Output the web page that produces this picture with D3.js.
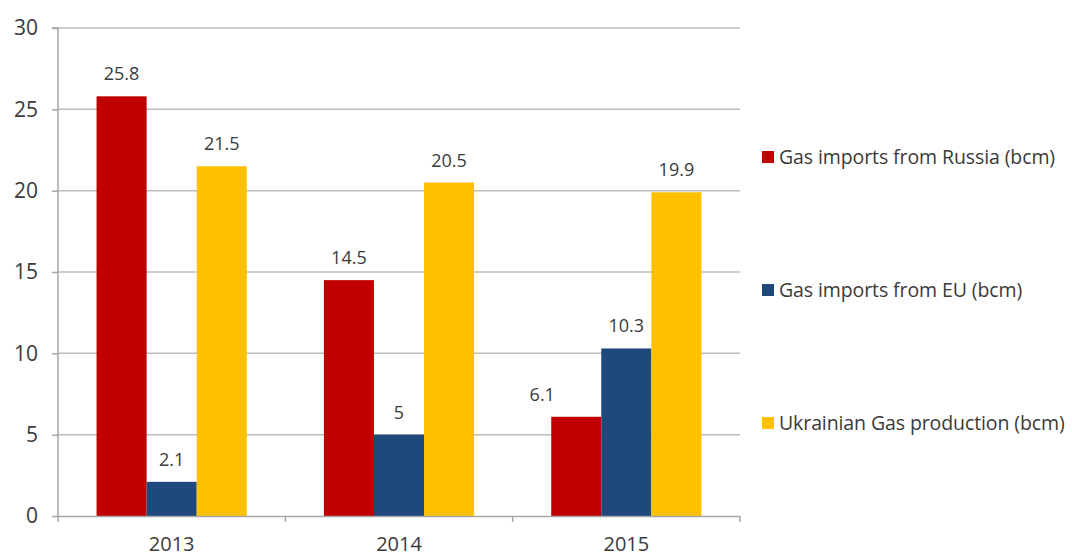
<!DOCTYPE html>
<html><head><meta charset="utf-8">
<script src="https://cdn.jsdelivr.net/npm/d3@7"></script>
<style>body{margin:0;background:#fff}svg{display:block}</style>
</head><body><svg id="c" width="1072" height="556"></svg>
<script>
const years = ["2013", "2014", "2015"];
const seriesNames = ["Gas imports from Russia (bcm)", "Gas imports from EU (bcm)", "Ukrainian Gas production (bcm)"];
const russia = [25.8, 14.5, 6.1];
const eu = [2.1, 5, 10.3];
const production = [21.5, 20.5, 19.9];
const yTicks = [0, 5, 10, 15, 20, 25, 30];
const colors = ["#C00000", "#1F497D", "#FFC000"];

const seriesValues = [russia, eu, production];
const svg = d3.select("#c");
const font = "'Open Sans', sans-serif";
const textColor = "#3a3a3a";
const mLeft = 58, mRight = 740, mTop = 28, mBottom = 516;

const x = d3.scaleBand().domain(years).range([mLeft, mRight]).paddingInner(0).paddingOuter(0);
const x1 = d3.scaleBand().domain(d3.range(3)).range([0, x.bandwidth()]).paddingOuter(0.77).paddingInner(0);
const y = d3.scaleLinear().domain([0, 30]).range([mBottom, mTop]);

// gridlines
svg.append("g").selectAll("line").data(yTicks.filter(t => t > 0)).join("line")
  .attr("x1", mLeft).attr("x2", mRight).attr("y1", d => y(d)).attr("y2", d => y(d))
  .attr("stroke", "#bcbcbc").attr("stroke-width", 1.5);

// y axis
const ya = svg.append("g").attr("transform", `translate(${mLeft},0)`)
  .call(d3.axisLeft(y).tickValues(yTicks).tickSize(6).tickPadding(14));
ya.select(".domain").attr("stroke", "#a6a6a6").attr("stroke-width", 1.5).attr("d", `M-6,${mTop}H0V${mBottom}`);
ya.selectAll(".tick line").attr("stroke", "#a6a6a6").attr("stroke-width", 1.5);
ya.selectAll(".tick text").attr("font-family", font).attr("font-size", 21).attr("fill", textColor);

// bars
const groups = svg.append("g").selectAll("g").data(years).join("g")
  .attr("transform", d => `translate(${x(d)},0)`);
groups.selectAll("rect").data((d, i) => seriesValues.map((s, k) => ({k, v: s[i]}))).join("rect")
  .attr("x", d => x1(d.k)).attr("width", x1.bandwidth())
  .attr("y", d => y(d.v)).attr("height", d => y(0) - y(d.v))
  .attr("fill", d => colors[d.k]);

// x axis
const xa = svg.append("g").attr("transform", `translate(0,${mBottom})`)
  .call(d3.axisBottom(x).tickSize(0).tickPadding(21));
xa.select(".domain").attr("stroke", "#a6a6a6").attr("stroke-width", 1.5);
xa.selectAll(".tick text").attr("font-family", font).attr("font-size", 20).attr("fill", textColor);
svg.append("g").selectAll("line").data([...years.map(d => x(d)), mRight]).join("line")
  .attr("x1", d => d).attr("x2", d => d).attr("y1", mBottom).attr("y2", mBottom + 6)
  .attr("stroke", "#a6a6a6").attr("stroke-width", 1.5);

// value labels
groups.selectAll("text.v").data((d, i) => seriesValues.map((s, k) => ({k, v: s[i], yr: d}))).join("text")
  .attr("class", "v")
  .attr("x", d => x1(d.k) + x1.bandwidth() / 2 + (d.yr === "2015" && d.k === 0 ? -34 : 0))
  .attr("y", d => y(d.v) - 16)
  .attr("text-anchor", "middle").attr("font-family", font).attr("font-size", 18).attr("fill", textColor)
  .text(d => d.v);

// legend
const lg = svg.append("g").selectAll("g").data(seriesNames).join("g")
  .attr("transform", (d, i) => `translate(762,${157 + i * 133})`);
lg.append("rect").attr("x", 0).attr("y", -6).attr("width", 12).attr("height", 12).attr("fill", (d, i) => colors[i]);
lg.append("text").attr("x", 17).attr("y", 0).attr("dy", "0.35em")
  .attr("font-family", font).attr("font-size", 19.5).attr("fill", textColor).attr("letter-spacing", -0.1).text(d => d);
</script></body></html>
